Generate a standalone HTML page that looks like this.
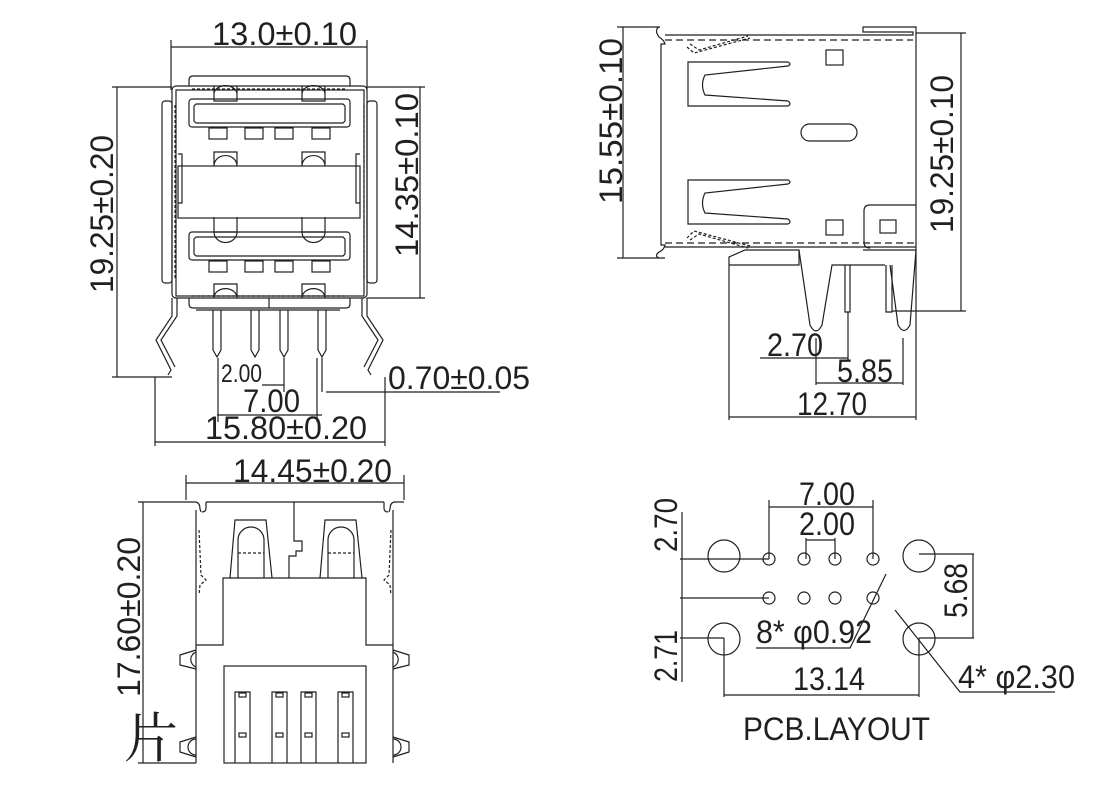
<!DOCTYPE html>
<html><head><meta charset="utf-8"><style>
body{margin:0;background:#fff}
svg{display:block}
text{font-family:"Liberation Sans",Arial,sans-serif;fill:#231f20}
</style></head><body>
<svg width="1120" height="786" viewBox="0 0 1120 786" xmlns="http://www.w3.org/2000/svg">
<g fill="none" stroke="#231f20" stroke-width="1.2">
<path d="M171 40V90M367 40V90M171 47H367"/>
<path d="M112 87H172M112 377H172M117 87V377"/>
<path d="M367 87H425M367 298H425M420 87V298"/>
<rect x="172" y="86" width="195" height="212" rx="4"/>
<rect x="176" y="90" width="188" height="206"/>
<path d="M189 86V80Q189 76 193 76H346Q350 76 350 80V86"/>
<path d="M192 89H347" stroke-dasharray="3 2"/>
<rect x="162" y="101" width="10" height="182" rx="3"/>
<rect x="367" y="101" width="10" height="182" rx="3"/>
<path d="M175 105V280M364 105V280" stroke-dasharray="3 2"/>
<rect x="189" y="99" width="161" height="28" rx="3"/>
<path d="M196 104H343L345 106V121L343 123H196L194 121V106Z"/>
<rect x="209" y="128" width="18" height="11"/><rect x="245" y="128" width="18" height="11"/><rect x="275" y="128" width="18" height="11"/><rect x="312" y="128" width="18" height="11"/>
<path d="M214 86V101H237V86M214 94A11 8 0 0 1 237 94M302 86V101H325V86M302 94A11 8 0 0 1 325 94"/>
<path d="M214 166V152H237V166M214 166A11 10 0 0 1 237 166M302 166V152H325V166M302 166A11 10 0 0 1 325 166"/>
<rect x="178" y="166" width="182" height="52"/>
<path d="M178 154H182V203H178M360 154H356V203H360"/>
<path d="M214 217V232H237V217M214 232A11 10 0 0 0 237 232M302 217V232H325V217M302 232A11 10 0 0 0 325 232"/>
<rect x="189" y="232" width="161" height="28" rx="3"/>
<path d="M196 237H343L345 239V254L343 256H196L194 254V239Z"/>
<rect x="209" y="261" width="18" height="11"/><rect x="245" y="261" width="18" height="11"/><rect x="275" y="261" width="18" height="11"/><rect x="312" y="261" width="18" height="11"/>
<path d="M214 298V284H237V298M214 298A11 9 0 0 1 237 298M302 298V284H325V298M302 298A11 9 0 0 1 325 298"/>
<path d="M192 296H347" stroke-dasharray="3 2"/>
<path d="M189 298V304Q189 308 193 308H346Q350 308 350 304V298M269 298V308M196 310H340"/>
<path d="M213 310V350L217 357L221 350V310M251 310V350L255 357L259 350V310M280 310V350L284 357L288 350V310M318 310V350L322 357L326 350V310"/>
<path d="M172 298V316L156 340L171 370L168 375M177 298V316L161 340L175 367"/>
<path d="M367 298V316L383 340L368 370L371 375M362 298V316L378 340L364 367"/>
<path d="M218 358V422M284 358V392M317 358V422M322 358V392"/>
<path d="M262 385H284M326 392H500"/>
<path d="M217 415H322"/>
<path d="M155 377V446M385 377V446M155 442H385"/>
<path d="M617 27H660M617 258H665M623 27V258"/>
<path d="M659 27Q654 30 659 37Q664 40 665 44H661V245H665Q664 250 659 252Q654 256 659 258"/>
<path d="M665 35H913V32H863V27H916V250H863M665 247H916"/>
<path d="M665 40H913M665 243H916" stroke-dasharray="7 4"/>
<path d="M690 44L699 50L748 36M687 47L694 53L750 38M690 240L699 234L748 248M687 238L694 231L750 246" stroke-dasharray="3 2"/>
<path d="M688 62H788Q792 64 788 66L705 75Q700 85 705 95L788 101Q792 104 788 106H688Z"/>
<path d="M688 180H788Q792 182 788 184L705 193Q700 203 705 213L788 219Q792 222 788 224H688Z"/>
<rect x="826" y="50" width="17" height="15"/><rect x="826" y="220" width="17" height="15"/><rect x="880" y="220" width="16" height="13"/>
<rect x="801" y="124" width="56" height="17" rx="8.5"/>
<path d="M916 205H870Q864 205 864 211V242Q864 248 870 248"/>
<path d="M729 265V257L745 250H799V265H729"/>
<path d="M799 250L810 325Q816 337 822 325L832 265H885"/>
<path d="M845 265V312H850V265M886 265V312H892V265"/>
<path d="M890 265L898 325Q904 336 910 325L916 250"/>
<path d="M916 33H966M892 311H966M961 33V311"/>
<path d="M760 358H848M848 312V360"/>
<path d="M816 383H903M816 338V385M903 338V385"/>
<path d="M729 265V420M916 250V420M729 417H916"/>
<path d="M186 475V500M404 475V500M186 483H404"/>
<path d="M138 502H186M138 763H196M143 502V763"/>
<path d="M186 502H196Q200 503 200 509L201 512M404 502H394Q390 503 390 509L389 512M206 502H384M196 510V763M393 510V763"/>
<path d="M206 502V508Q206 512 202 512M384 502V508Q384 512 388 512"/>
<path d="M199 530L201 575L206 580L200 585L199 595M391 530L389 575L384 580L390 585L391 595" stroke-dasharray="3 2"/>
<path d="M230 578L235 520H266L272 578M320 578L325 520H356L362 578"/>
<path d="M238 578V540A13 13 0 0 1 264 540V578M328 578V540A13 13 0 0 1 354 540V578"/>
<path d="M238 553H264M328 553H354" stroke-dasharray="3 2"/>
<path d="M294 502V541H302V551H296V556H289V578"/>
<path d="M196 645H223V578H366V645H393"/>
<rect x="224" y="666" width="142" height="97"/>
<path d="M235 763V692H250V763M272 763V692H287V763M301 763V692H316V763M338 763V692H353V763"/>
<rect x="239" y="693" width="7" height="4"/><rect x="276" y="693" width="7" height="4"/><rect x="305" y="693" width="7" height="4"/><rect x="342" y="693" width="7" height="4"/>
<rect x="239" y="733" width="7" height="4"/><rect x="276" y="733" width="7" height="4"/><rect x="305" y="733" width="7" height="4"/><rect x="342" y="733" width="7" height="4"/>
<path d="M196 650L180 655V665L196 669M196 652A8 8 0 0 0 196 667M393 650L409 655V665L393 669M393 652A8 8 0 0 1 393 667"/>
<path d="M196 737L180 742V752L196 757M196 739A8 8 0 0 0 196 755M393 737L409 742V752L393 757M393 739A8 8 0 0 1 393 755"/>
<circle cx="724" cy="556" r="16"/><circle cx="919" cy="556" r="16"/><circle cx="724" cy="639" r="16"/><circle cx="919" cy="639" r="16"/>
<circle cx="769" cy="559" r="6"/><circle cx="804" cy="559" r="6"/><circle cx="835" cy="559" r="6"/><circle cx="873" cy="559" r="6"/>
<circle cx="769" cy="598" r="6"/><circle cx="804" cy="598" r="6"/><circle cx="835" cy="598" r="6"/><circle cx="873" cy="598" r="6"/>
<path d="M769 500V559M873 500V559M769 507H873M806 538V559M835 538V559M806 540H835"/>
<path d="M680 559H769M680 598H769M680 638H724M682 512V682M682 559V598"/>
<path d="M919 554H974M919 638H974M973 554V638"/>
<path d="M724 638V697M919 638V697M724 695H919"/>
<path d="M756 648H850L886 574"/>
<path d="M1055 692H960L895 610"/>
</g>
<g font-size="32">
<text x="212" y="45" textLength="145" lengthAdjust="spacingAndGlyphs">13.0±0.10</text>
<text transform="translate(113,293) rotate(-90)" textLength="158" lengthAdjust="spacingAndGlyphs">19.25±0.20</text>
<text transform="translate(418,257) rotate(-90)" textLength="164" lengthAdjust="spacingAndGlyphs">14.35±0.10</text>
<text x="221" y="382" font-size="25" textLength="41" lengthAdjust="spacingAndGlyphs">2.00</text>
<text x="388" y="389" textLength="142" lengthAdjust="spacingAndGlyphs">0.70±0.05</text>
<text x="243" y="412" textLength="57" lengthAdjust="spacingAndGlyphs">7.00</text>
<text x="205" y="439" textLength="162" lengthAdjust="spacingAndGlyphs">15.80±0.20</text>
<text transform="translate(622,204) rotate(-90)" textLength="166" lengthAdjust="spacingAndGlyphs">15.55±0.10</text>
<text transform="translate(953,233) rotate(-90)" textLength="158" lengthAdjust="spacingAndGlyphs">19.25±0.10</text>
<text x="767" y="356" textLength="56" lengthAdjust="spacingAndGlyphs">2.70</text>
<text x="837" y="382" textLength="56" lengthAdjust="spacingAndGlyphs">5.85</text>
<text x="797" y="415" textLength="70" lengthAdjust="spacingAndGlyphs">12.70</text>
<text x="233" y="482" textLength="159" lengthAdjust="spacingAndGlyphs">14.45±0.20</text>
<text transform="translate(140,697) rotate(-90)" textLength="160" lengthAdjust="spacingAndGlyphs">17.60±0.20</text>
<text x="799" y="505" textLength="56" lengthAdjust="spacingAndGlyphs">7.00</text>
<text x="799" y="535" textLength="56" lengthAdjust="spacingAndGlyphs">2.00</text>
<text transform="translate(677,552) rotate(-90)" textLength="54" lengthAdjust="spacingAndGlyphs">2.70</text>
<text transform="translate(677,682) rotate(-90)" textLength="52" lengthAdjust="spacingAndGlyphs">2.71</text>
<text transform="translate(967,618) rotate(-90)" textLength="55" lengthAdjust="spacingAndGlyphs">5.68</text>
<text x="756" y="643" textLength="116" lengthAdjust="spacingAndGlyphs">8* φ0.92</text>
<text x="793" y="690" textLength="72" lengthAdjust="spacingAndGlyphs">13.14</text>
<text x="958" y="688" textLength="117" lengthAdjust="spacingAndGlyphs">4* φ2.30</text>
<text x="743" y="740" textLength="187" lengthAdjust="spacingAndGlyphs">PCB.LAYOUT</text>
</g>
<text x="124" y="757" font-size="54" style="font-family:'Noto Serif CJK SC',serif">片</text>
</svg>
</body></html>
